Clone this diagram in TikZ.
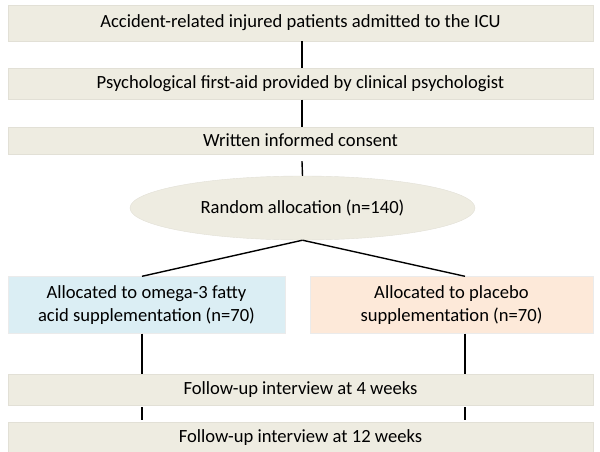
\documentclass[tikz,border=0pt]{standalone}
\usepackage{fontspec}
\setmainfont{Carlito}
\usepackage{tikz}
\usetikzlibrary{positioning,shapes.geometric,calc}
\definecolor{tan}{HTML}{EEECE1}
\definecolor{tanedge}{HTML}{E2E0D6}
\definecolor{paleblue}{HTML}{DBEEF4}
\definecolor{palepeach}{HTML}{FDE9D9}
\tikzset{%
	stage/.style    = {fill=tan, draw=tanedge, rectangle, minimum width=585pt, text centered, inner sep=0pt},
	armbox/.style   = {draw=white!92!black, rectangle, minimum height=57pt, text centered, align=center, inner sep=0pt},
	randbox/.style  = {fill=tan, draw=tanedge, ellipse, minimum width=345pt, minimum height=64pt, inner sep=0pt},
	link/.style     = {line width=1.4pt, black},
}

\begin{document}
\begin{tikzpicture}[x=1pt,y=-1pt,font=\fontsize{18.6}{23.5}\selectfont]
	\useasboundingbox (0,0) rectangle (600,452);
	\node [stage, minimum height=36pt] (icu) at (300.5,23) {Accident-related injured patients admitted to the ICU};
	\node [stage, minimum height=31pt] (aid) at (300.5,84) {Psychological first-aid provided by clinical psychologist};
	\node [stage, minimum height=27pt] (consent) at (300.5,140.5) {Written informed consent};
	\node [randbox] (rand) at (302.5,208) {Random allocation (n=140)};
	\node [armbox, fill=paleblue, minimum width=277pt] (omega) at (146.5,305) {Allocated to omega-3 fatty\\acid supplementation (n=70)};
	\node [armbox, fill=palepeach, minimum width=283pt] (placebo) at (451.5,305) {Allocated to placebo\\supplementation (n=70)};
	\node [stage, minimum height=31pt] (week4) at (300.5,389.5) {Follow-up interview at 4 weeks};
	\node [stage, minimum height=31pt] (week12) at (300.5,437.5) {Follow-up interview at 12 weeks};
	\coordinate (lx) at (142,0);
	\coordinate (rx) at (465,0);
	
	\draw[link] (icu.south -| 302,0) -- (aid.north -| 302,0);
	\draw[link] (aid.south -| 302,0) -- (consent.north -| 302,0);
	\draw[link] ($(consent.south -| 302,0)+(0,7)$) -- (rand.north);
	\draw[link] (rand.south) -- (lx |- omega.north);
	\draw[link] (rand.south) -- (rx |- placebo.north);
	\draw[link] (lx |- omega.south) -- (lx |- week4.north);
	\draw[link] (rx |- placebo.south) -- (rx |- week4.north);
	\draw[link] ($(lx |- week4.south)+(0,2)$) -- ($(lx |- week12.north)+(0,-2)$);
	\draw[link] ($(rx |- week4.south)+(0,2)$) -- ($(rx |- week12.north)+(0,-2)$);
\end{tikzpicture}
\end{document}
